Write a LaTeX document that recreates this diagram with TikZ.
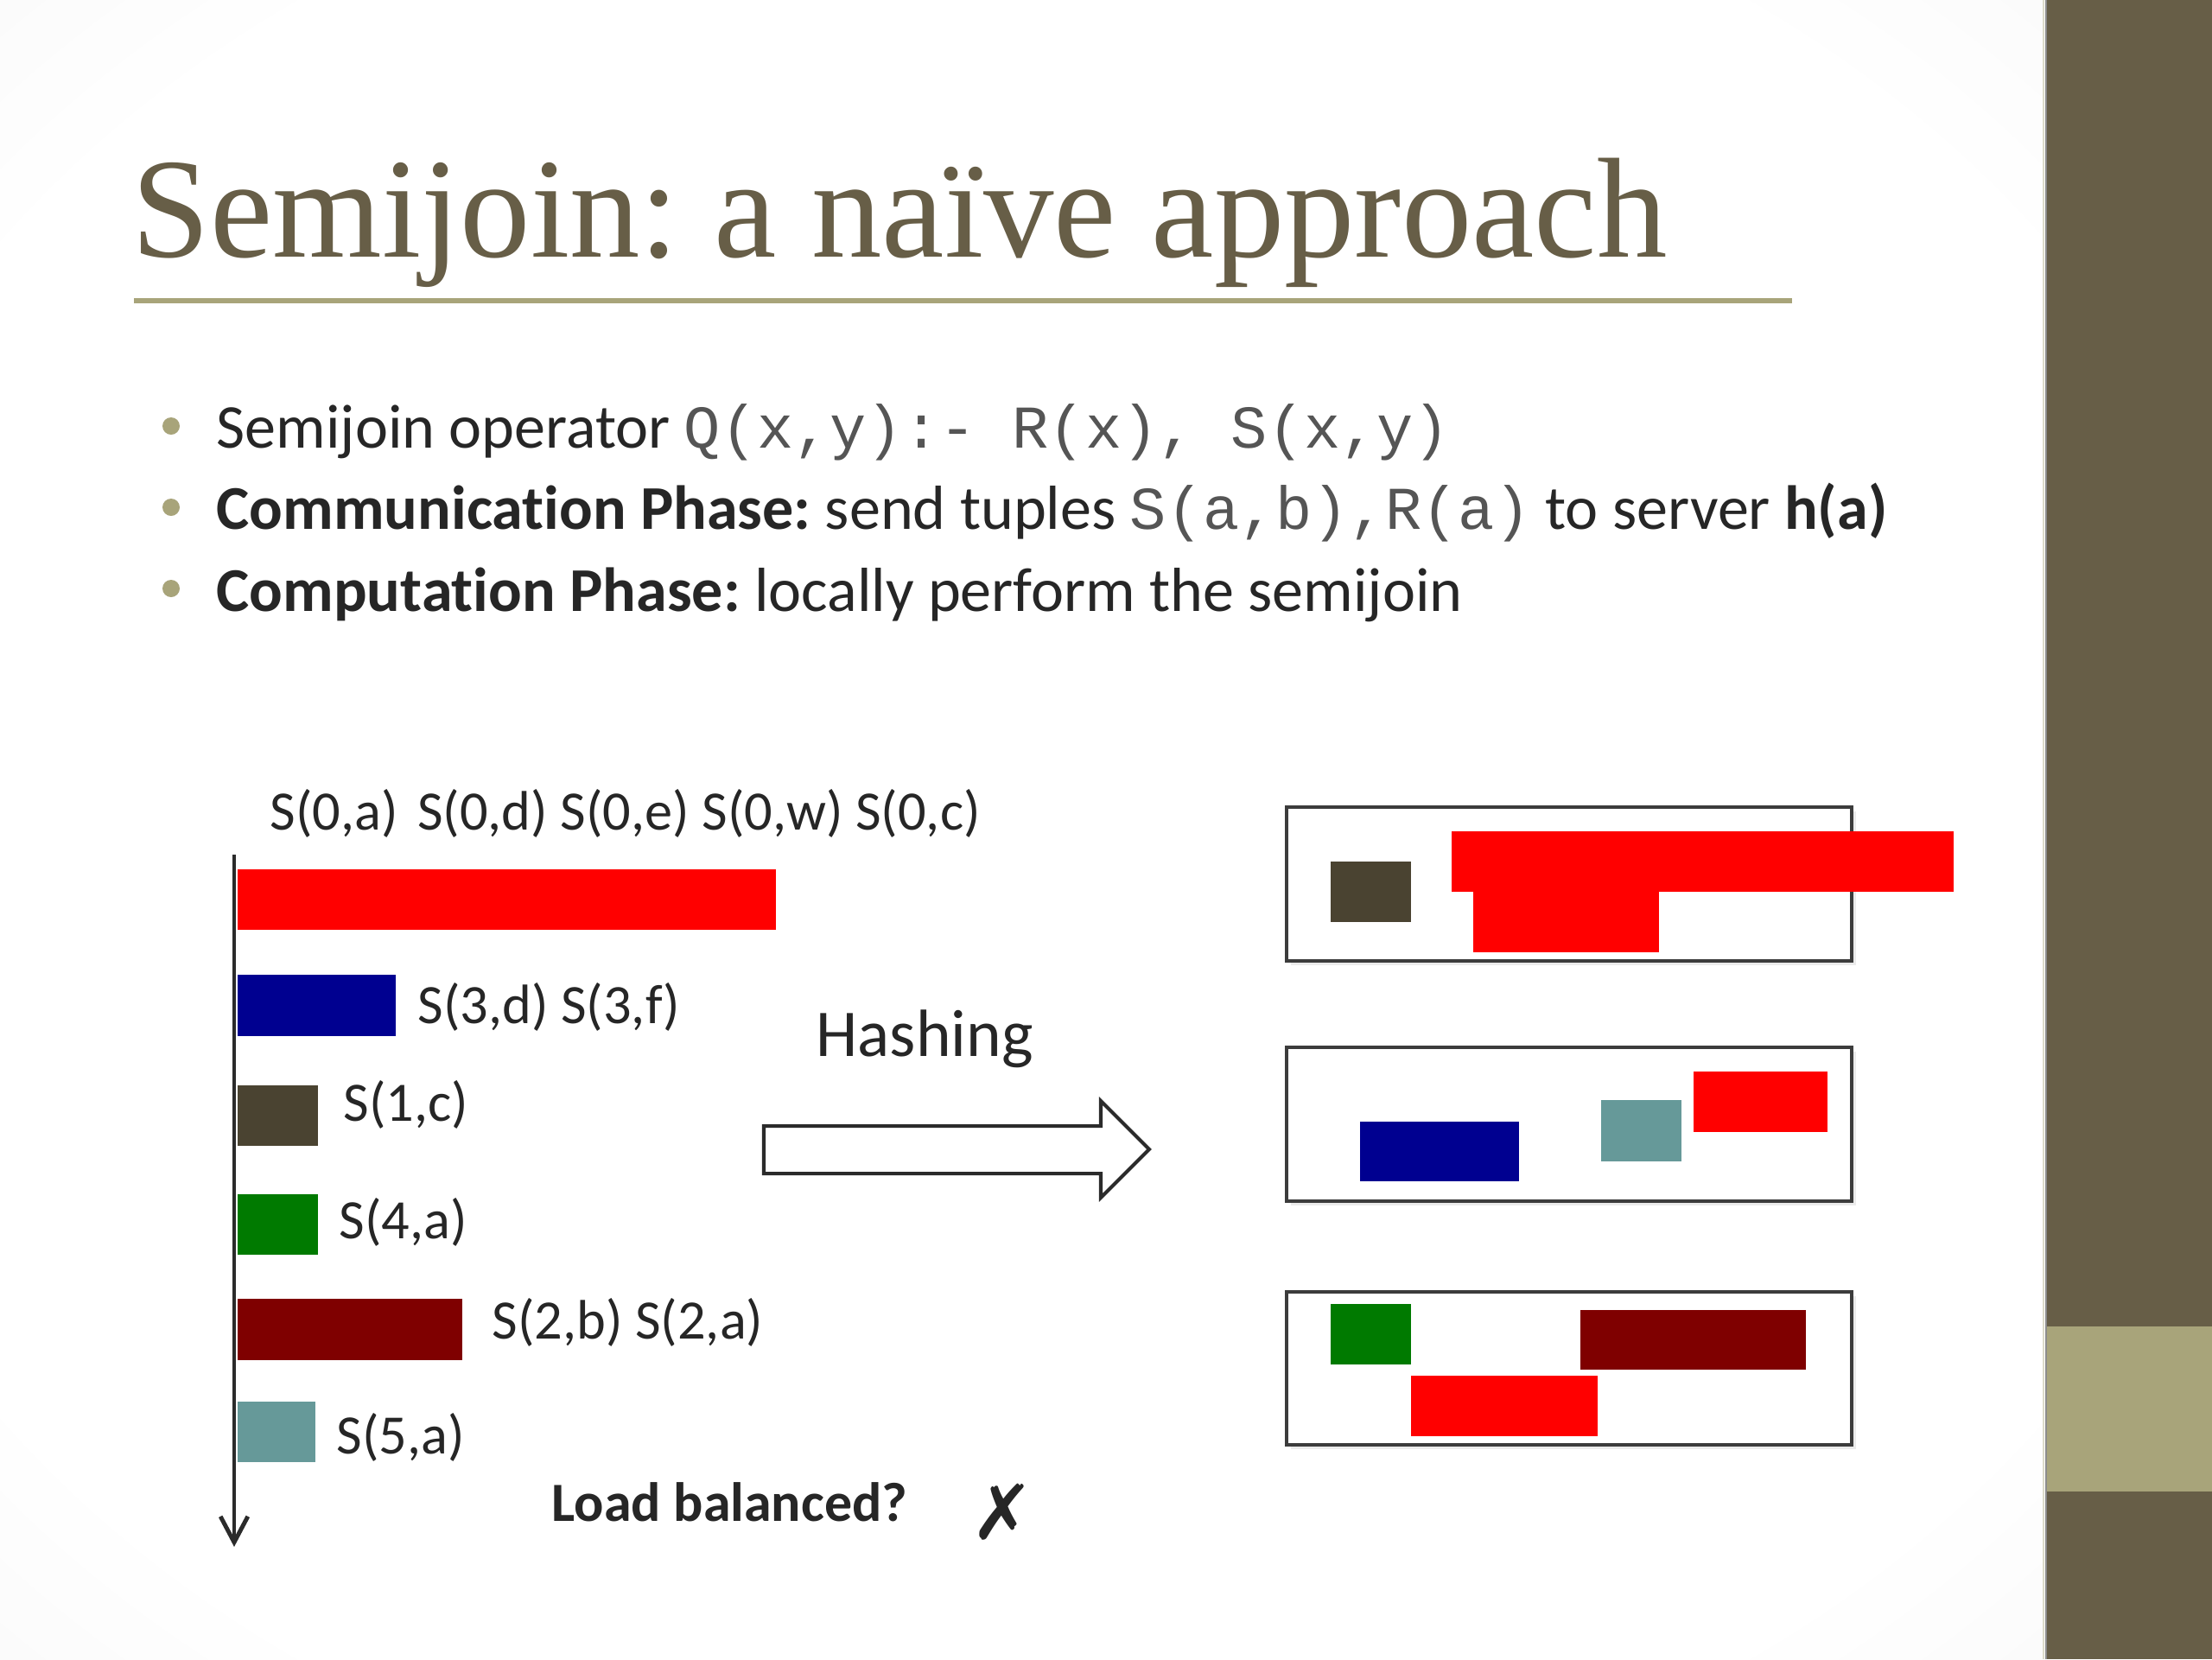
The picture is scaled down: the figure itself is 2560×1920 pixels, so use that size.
\documentclass[tikz,border=0pt]{standalone}
\usepackage{fontspec}
\setmainfont{Carlito}[Ligatures={NoCommon}]
\newfontfamily\titlefont{Liberation Serif}
\newfontfamily\courfont{Liberation Mono}
\newfontfamily\symfont{DejaVu Sans}
\usetikzlibrary{arrows.meta}
\definecolor{olivedark}{HTML}{675E47}
\definecolor{khaki}{HTML}{A8A47A}
\definecolor{txt}{HTML}{262626}
\definecolor{monotxt}{HTML}{555555}
\definecolor{axiscol}{HTML}{2B2B2B}
\definecolor{boxcol}{HTML}{3C3C3C}
\definecolor{barred}{HTML}{FF0000}
\definecolor{barnavy}{HTML}{000090}
\definecolor{barbrown}{HTML}{4A4331}
\definecolor{bargreen}{HTML}{007A00}
\definecolor{barmaroon}{HTML}{7F0000}
\definecolor{barteal}{HTML}{669999}
\pgfdeclareradialshading{bgshade}{\pgfpoint{0bp}{0bp}}{color(0bp)=(white); color(30bp)=(white); color(50bp)=(black!6); color(71bp)=(black!15)}
\frenchspacing
\begin{document}
\frenchspacing
\begin{tikzpicture}[x=0.01cm,y=-0.01cm,
  bullettext/.style={anchor=base west, inner sep=0pt, text=txt, font=\fontsize{20.5}{24}\selectfont},
  lbl/.style={anchor=base west, inner sep=0pt, text=txt, font=\fontsize{18.3}{21}\selectfont},
  bulletdot/.style={fill=khaki},
  srvbox/.style={draw=boxcol, line width=1.15pt, fill=white},
  srvshadow/.style={fill=black!8}]
\useasboundingbox (0,0) rectangle (2560,1920);
% background
\shade[shading=bgshade] (0,0) rectangle (2368,1920);
% sidebar
\fill[olivedark] (2368,0) rectangle (2560,1920);
\fill[khaki] (2368,1535) rectangle (2560,1726);
\draw[line width=0.6pt, color=black!45] (2368,0) -- (2368,1920);
\draw[line width=0.5pt, color=khaki!40] (2365,0) -- (2365,1920);
% title
\node[anchor=base west, inner sep=0pt, text=olivedark, xscale=0.987, font=\titlefont\fontsize{46.9}{52}\selectfont] (title) at (152,297) {Semijoin: a naïve approach};
\draw[khaki, line width=1.7pt] (155,348) -- (2074,348);
% bullets
\fill[bulletdot] (198,493) circle (10);
\fill[bulletdot] (198,587) circle (10);
\fill[bulletdot] (198,681) circle (10);
\node[bullettext] (b1) at (250,518) {Semijoin operator {\courfont\fontsize{20}{24}\selectfont\color{monotxt}Q(x,y):- R(x), S(x,y)}};
\node[bullettext] (b2) at (250,612) {\textbf{Communication Phase:} send tuples {\courfont\fontsize{20}{24}\selectfont\color{monotxt}S(a,b),R(a)} to server \textbf{h(a)}};
\node[bullettext] (b3) at (250,707) {\textbf{Computation Phase:} locally perform the semijoin};
% left bars
\fill[barred] (275,1006) rectangle (898,1076);
\fill[barnavy] (275,1128) rectangle (458,1199);
\fill[barbrown] (275,1256) rectangle (368,1326);
\fill[bargreen] (275,1382) rectangle (368,1452);
\fill[barmaroon] (275,1503) rectangle (535,1574);
\fill[barteal] (275,1622) rectangle (365,1692);
% axis
\coordinate (axtop) at (271,989);
\coordinate (axbot) at (271,1790);
\draw[axiscol, line width=1.4pt, -{Straight Barb[length=8.5pt,width=9pt]}] (axtop) -- (axbot);
% labels
\node[lbl] (l0) at (312,960) {S(0,a)\hspace{0.12em} S(0,d) S(0,e) S(0,w) S(0,c)};
\node[lbl] (l3) at (483,1184) {S(3,d) S(3,f)};
\node[lbl] (l1) at (397,1297) {S(1,c)};
\node[lbl] (l4) at (392,1433) {S(4,a)};
\node[lbl] (l2) at (569,1549) {S(2,b) S(2,a)};
\node[lbl] (l5) at (389,1682) {S(5,a)};
\node[anchor=base west, inner sep=0pt, text=txt, font=\fontsize{22}{26}\selectfont] (hash) at (944,1222) {Hashing};
\node[lbl, font=\fontsize{18.2}{21}\selectfont\bfseries] (load) at (638,1760) {Load balanced?};
\node[inner sep=0pt, text=txt, font=\symfont\fontsize{25}{28}\selectfont] (xmark) at (1160,1750) {✗};
% hashing block arrow
\draw[draw=axiscol, fill=white, line width=1.15pt, line join=miter]
  (884,1303) -- (1274,1303) -- (1274,1274) -- (1330,1330) -- (1274,1386) -- (1274,1358) -- (884,1358) -- cycle;
% server boxes
\fill[srvshadow] (1494,939) rectangle (2148,1117);
\fill[srvshadow] (1494,1217) rectangle (2148,1395);
\fill[srvshadow] (1494,1500) rectangle (2148,1677);
\draw[srvbox] (1489,934) rectangle (2143,1112);
\draw[srvbox] (1489,1212) rectangle (2143,1390);
\draw[srvbox] (1489,1495) rectangle (2143,1672);
% box 1 contents
\fill[barbrown] (1540,997) rectangle (1633,1067);
\fill[barred] (1680,962) rectangle (2261,1032);
\fill[barred] (1705,1031) rectangle (1920,1102);
% box 2 contents
\fill[barnavy] (1574,1298) rectangle (1758,1367);
\fill[barteal] (1853,1273) rectangle (1946,1344);
\fill[barred] (1960,1240) rectangle (2115,1310);
% box 3 contents
\fill[bargreen] (1540,1509) rectangle (1633,1579);
\fill[barmaroon] (1829,1516) rectangle (2090,1585);
\fill[barred] (1633,1592) rectangle (1849,1662);
\end{tikzpicture}
\end{document}
